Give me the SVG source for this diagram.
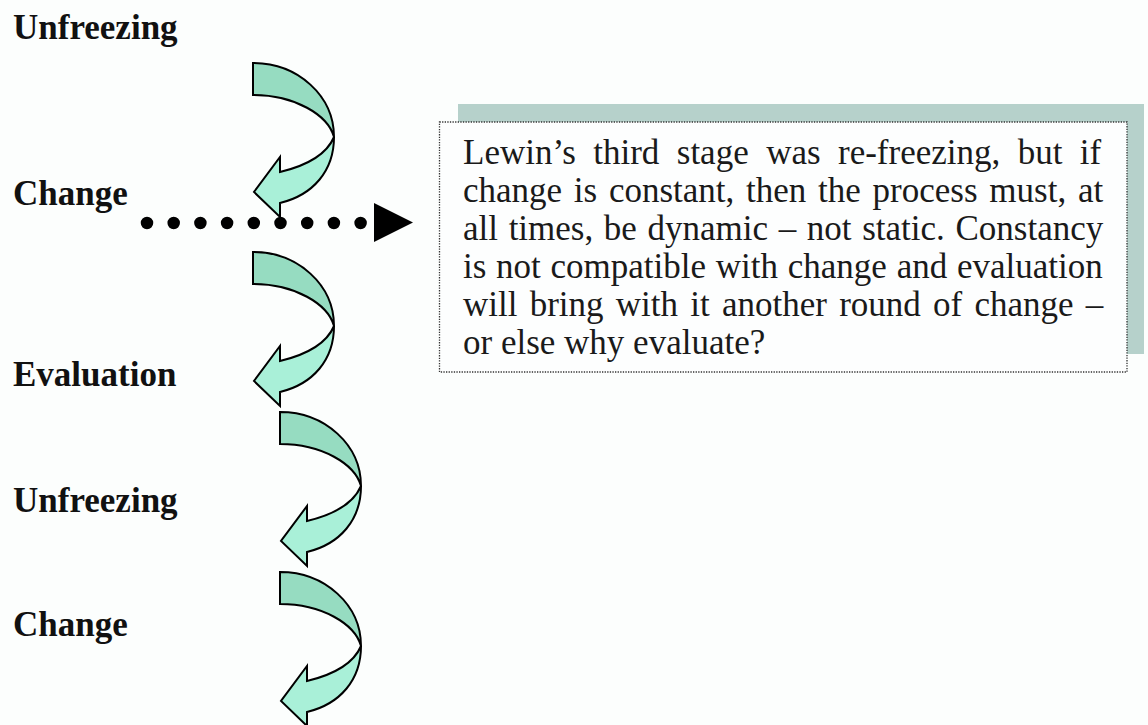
<svg xmlns="http://www.w3.org/2000/svg" xmlns:xlink="http://www.w3.org/1999/xlink" width="1148" height="725" viewBox="0 0 1148 725">
<style>
.lbl{font-family:"Liberation Serif","Times New Roman",serif;font-weight:bold;font-size:35px;fill:#111}
.body{font-family:"Liberation Serif","Times New Roman",serif;font-size:35px;fill:#1a1a1a}
.up{fill:#96dcc1;stroke:#000;stroke-width:2;stroke-linejoin:miter}
.low{fill:#a9f0d8;stroke:#000;stroke-width:2;stroke-linejoin:miter}
</style>
<defs>
<g id="curl">
<path class="up" d="M0,0 C45,0 81,33 81,74 C75,52 42,32 0,32 Z"/>
<path class="low" d="M81,74 C81,108 60,132 27,140 L27,154 L1,129 L27,94 L27,109 C52,103 73,93 81,74 Z"/>
</g>
</defs>
<rect width="1148" height="725" fill="#fcfefd"/>
<g id="label-unfreezing-1"><text class="lbl" x="13" y="39">Unfreezing</text></g>
<g id="label-change-1"><text class="lbl" x="13" y="205">Change</text></g>
<g id="label-evaluation"><text class="lbl" x="13" y="386">Evaluation</text></g>
<g id="label-unfreezing-2"><text class="lbl" x="13" y="512">Unfreezing</text></g>
<g id="label-change-2"><text class="lbl" x="13" y="636">Change</text></g>
<g id="arrow-1"><use xlink:href="#curl" href="#curl" transform="translate(253,63)"/></g>
<g id="arrow-2"><use xlink:href="#curl" href="#curl" transform="translate(253,252)"/></g>
<g id="arrow-3"><use xlink:href="#curl" href="#curl" transform="translate(280,412)"/></g>
<g id="arrow-4"><use xlink:href="#curl" href="#curl" transform="translate(280,572)"/></g>
<g id="connectors">
<path d="M147,223 L362,223" stroke="#000" stroke-width="12.5" stroke-linecap="round" stroke-dasharray="0 26.7" fill="none"/>
<polygon points="374,203 374,242 413,222.5" fill="#000"/>
</g>
<g id="note">
<rect x="458" y="104" width="686" height="250" fill="#b6d1cb"/>
<rect x="439.5" y="122" width="687.5" height="250" fill="#fdfefe" stroke="#333" stroke-width="1.3" stroke-dasharray="1.3 1.3"/>
<text class="body" x="463" y="164" word-spacing="8.7">Lewin’s third stage was re-freezing, but if</text>
<text class="body" x="463" y="202" word-spacing="3">change is constant, then the process must, at</text>
<text class="body" x="463" y="240" word-spacing="1.9">all times, be dynamic – not static. Constancy</text>
<text class="body" x="463" y="278" word-spacing="1">is not compatible with change and evaluation</text>
<text class="body" x="463" y="316" word-spacing="3.5">will bring with it another round of change –</text>
<text class="body" x="463" y="354">or else why evaluate?</text>
</g>
</svg>
